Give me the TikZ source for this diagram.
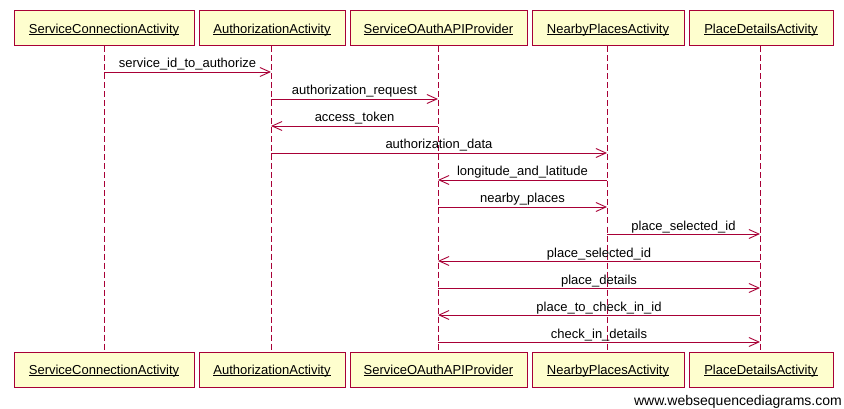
\documentclass[tikz,border=0pt]{standalone}
\usepackage{fontspec}
\setmainfont{Liberation Sans}
\usetikzlibrary{arrows.meta}
\definecolor{wsdred}{HTML}{A80036}
\definecolor{wsdfill}{HTML}{FEFECE}
\newcommand{\partul}[1]{\underline{\raisebox{0pt}[\height][0pt]{#1}}}
\tikzset{
  part/.style={draw=wsdred, fill=wsdfill, line width=1pt, minimum height=35pt, inner sep=0pt, text height=9.5pt, text depth=0pt, font=\fontsize{13}{15}\selectfont},
  life/.style={draw=wsdred, line width=1pt, dash pattern=on 6pt off 3pt},
  msg/.style={draw=wsdred, line width=0.9pt, -{Straight Barb[length=10pt,width=9pt,line width=0.9pt]}},
  lbl/.style={midway, anchor=base, yshift=4pt, inner sep=0pt, font=\fontsize{13}{15}\selectfont, text=black}
}
\begin{document}
\begin{tikzpicture}[x=1pt,y=-1pt]
\useasboundingbox (0,0) rectangle (844,409);
\foreach \n/\cx/\w/\t in {1/104/180/ServiceConnectionActivity,2/272/146/AuthorizationActivity,3/438.5/177/ServiceOAuthAPIProvider,4/608/152/NearbyPlacesActivity,5/761/144/PlaceDetailsActivity}{
  \node[part, minimum width=\w pt] (t\n) at (\cx,28.5) {\partul{\t}};
  \node[part, minimum width=\w pt] (b\n) at (\cx,369.5) {\partul{\t}};
}
\coordinate (l1) at (104,0);
\coordinate (l2) at (271,0);
\coordinate (l3) at (438,0);
\coordinate (l4) at (607,0);
\coordinate (l5) at (760,0);
\foreach \n in {1,...,5}{
  \draw[life] (l\n |- t\n.south) -- (l\n |- b\n.north);
}
\draw[msg] (l1 |- 0,72) -- (l2 |- 0,72) node[lbl] {service\_id\_to\_authorize};
\draw[msg] (l2 |- 0,99) -- (l3 |- 0,99) node[lbl] {authorization\_request};
\draw[msg] (l3 |- 0,126) -- (l2 |- 0,126) node[lbl] {access\_token};
\draw[msg] (l2 |- 0,153) -- (l4 |- 0,153) node[lbl] {authorization\_data};
\draw[msg] (l4 |- 0,180) -- (l3 |- 0,180) node[lbl] {longitude\_and\_latitude};
\draw[msg] (l3 |- 0,207) -- (l4 |- 0,207) node[lbl] {nearby\_places};
\draw[msg] (l4 |- 0,234) -- (l5 |- 0,234) node[lbl] {place\_selected\_id};
\draw[msg] (l5 |- 0,261) -- (l3 |- 0,261) node[lbl] {place\_selected\_id};
\draw[msg] (l3 |- 0,288) -- (l5 |- 0,288) node[lbl] {place\_details};
\draw[msg] (l5 |- 0,315) -- (l3 |- 0,315) node[lbl] {place\_to\_check\_in\_id};
\draw[msg] (l3 |- 0,342) -- (l5 |- 0,342) node[lbl] {check\_in\_details};
\node[anchor=base east, inner sep=0pt, font=\fontsize{14}{16}\selectfont] (wm) at (842,405) {www.websequencediagrams.com};
\end{tikzpicture}
\end{document}
